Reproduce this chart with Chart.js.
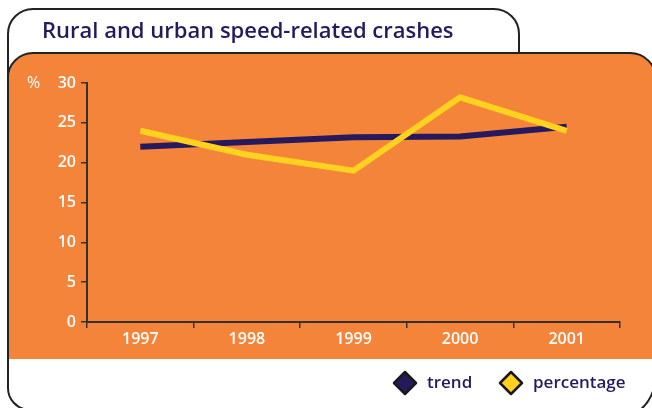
<!DOCTYPE html>
<html>
<head>
<meta charset="utf-8">
<script src="https://cdn.jsdelivr.net/npm/chart.js@4"></script>
<style>
  html, body { margin: 0; padding: 0; background: #fff; }
  #wrap { width: 652px; height: 408px; }
</style>
</head>
<body>
<div id="wrap"><canvas id="myChart" width="652" height="408"></canvas></div>
<script>
// data
const years = ['1997', '1998', '1999', '2000', '2001'];
const trend = [22, 22.6, 23.2, 23.3, 24.5];
const percentage = [24, 21, 19, 28.2, 24];
const yTicks = [0, 5, 10, 15, 20, 25, 30];

const navy = '#261a5f';
const yellow = '#ffd21f';
const orange = '#f4843a';
const fontName = '"Open Sans", "Noto Sans", sans-serif';

// frame, title and legend drawn around the chart
const framePlugin = {
  id: 'frame',
  beforeDraw(chart) {
    const c = chart.ctx;
    c.save();
    c.fillStyle = '#fff';
    c.fillRect(0, 0, 652, 408);

    // orange panel
    c.beginPath();
    c.moveTo(9, 359);
    c.lineTo(9, 78);
    c.arcTo(9, 53, 34, 53, 25);
    c.lineTo(628, 53);
    c.arcTo(656, 53, 656, 80, 26);
    c.lineTo(656, 359);
    c.closePath();
    c.fillStyle = orange;
    c.fill();

    c.strokeStyle = '#222';
    c.lineWidth = 2;
    // outer frame with title tab
    c.beginPath();
    c.moveTo(30, 410);
    c.arcTo(8, 408, 8, 385, 22);
    c.lineTo(8, 34);
    c.arcTo(8, 9, 33, 9, 25);
    c.lineTo(494, 9);
    c.arcTo(519, 9, 519, 34, 25);
    c.lineTo(519, 54);
    c.stroke();

    // top edge of the orange panel
    c.beginPath();
    c.moveTo(8, 80);
    c.arcTo(8, 53, 34, 53, 25);
    c.lineTo(628, 53);
    c.arcTo(656, 53, 656, 80, 26);
    c.stroke();

    // bottom right corner
    c.beginPath();
    c.moveTo(640, 410);
    c.quadraticCurveTo(650, 402, 654, 388);
    c.stroke();

    // title
    c.fillStyle = navy;
    c.font = '600 22px ' + fontName;
    c.textBaseline = 'middle';
    c.textAlign = 'left';
    c.fillText('Rural and urban speed-related crashes', 42, 32);

    // % unit label
    c.fillStyle = '#fff';
    c.font = '500 16px ' + fontName;
    c.fillText('%', 27, 83);
    c.restore();
  },
  afterDraw(chart) {
    const c = chart.ctx;
    c.save();
    const items = [
      { label: chart.data.datasets[0].label, color: navy, x: 405 },
      { label: chart.data.datasets[1].label, color: yellow, x: 511 }
    ];
    items.forEach(it => {
      c.beginPath();
      c.moveTo(it.x, 372);
      c.lineTo(it.x + 11, 383);
      c.lineTo(it.x, 394);
      c.lineTo(it.x - 11, 383);
      c.closePath();
      c.fillStyle = it.color;
      c.fill();
      c.lineJoin = 'round';
      c.lineWidth = 2.5;
      c.strokeStyle = '#1a1a1a';
      c.stroke();
      c.fillStyle = navy;
      c.font = '600 17px ' + fontName;
      c.textBaseline = 'middle';
      c.textAlign = 'left';
      c.fillText(it.label, it.x + 22, 383);
    });
    c.restore();
  }
};

new Chart(document.getElementById('myChart'), {
  type: 'line',
  data: {
    labels: years,
    datasets: [{
      label: 'trend',
      data: trend,
      order: 2,
      borderColor: navy,
      borderWidth: 6,
      borderCapStyle: 'butt',
      pointRadius: 0,
      tension: 0
    }, {
      label: 'percentage',
      data: percentage,
      order: 1,
      borderColor: yellow,
      borderWidth: 6,
      borderCapStyle: 'butt',
      pointRadius: 0,
      tension: 0
    }]
  },
  options: {
    responsive: false,
    animation: false,
    layout: { padding: { left: 27, right: 32, top: 83, bottom: 56 } },
    plugins: {
      legend: { display: false },
      title: { display: false },
      tooltip: { enabled: false }
    },
    scales: {
      x: {
        offset: true,
        grid: { display: true, offset: true, drawOnChartArea: false, drawTicks: true, tickLength: 6, color: '#333', lineWidth: 1.5 },
        border: { display: true, color: '#333', width: 2 },
        ticks: { color: '#fff', font: { family: fontName, size: 16, weight: '600' }, padding: 2 },
        afterFit(s) { s.height = 30; }
      },
      y: {
        min: 0,
        max: 30,
        grid: { display: true, drawOnChartArea: false, drawTicks: true, tickLength: 6, color: '#333', lineWidth: 1.5 },
        border: { display: true, color: '#333', width: 2 },
        afterBuildTicks(s) { s.ticks = yTicks.map(v => ({ value: v })); },
        ticks: { color: '#fff', font: { family: fontName, size: 16, weight: '600' }, padding: 5 },
        afterFit(s) { s.width = 60; }
      }
    }
  },
  plugins: [framePlugin]
});
</script>
</body>
</html>
